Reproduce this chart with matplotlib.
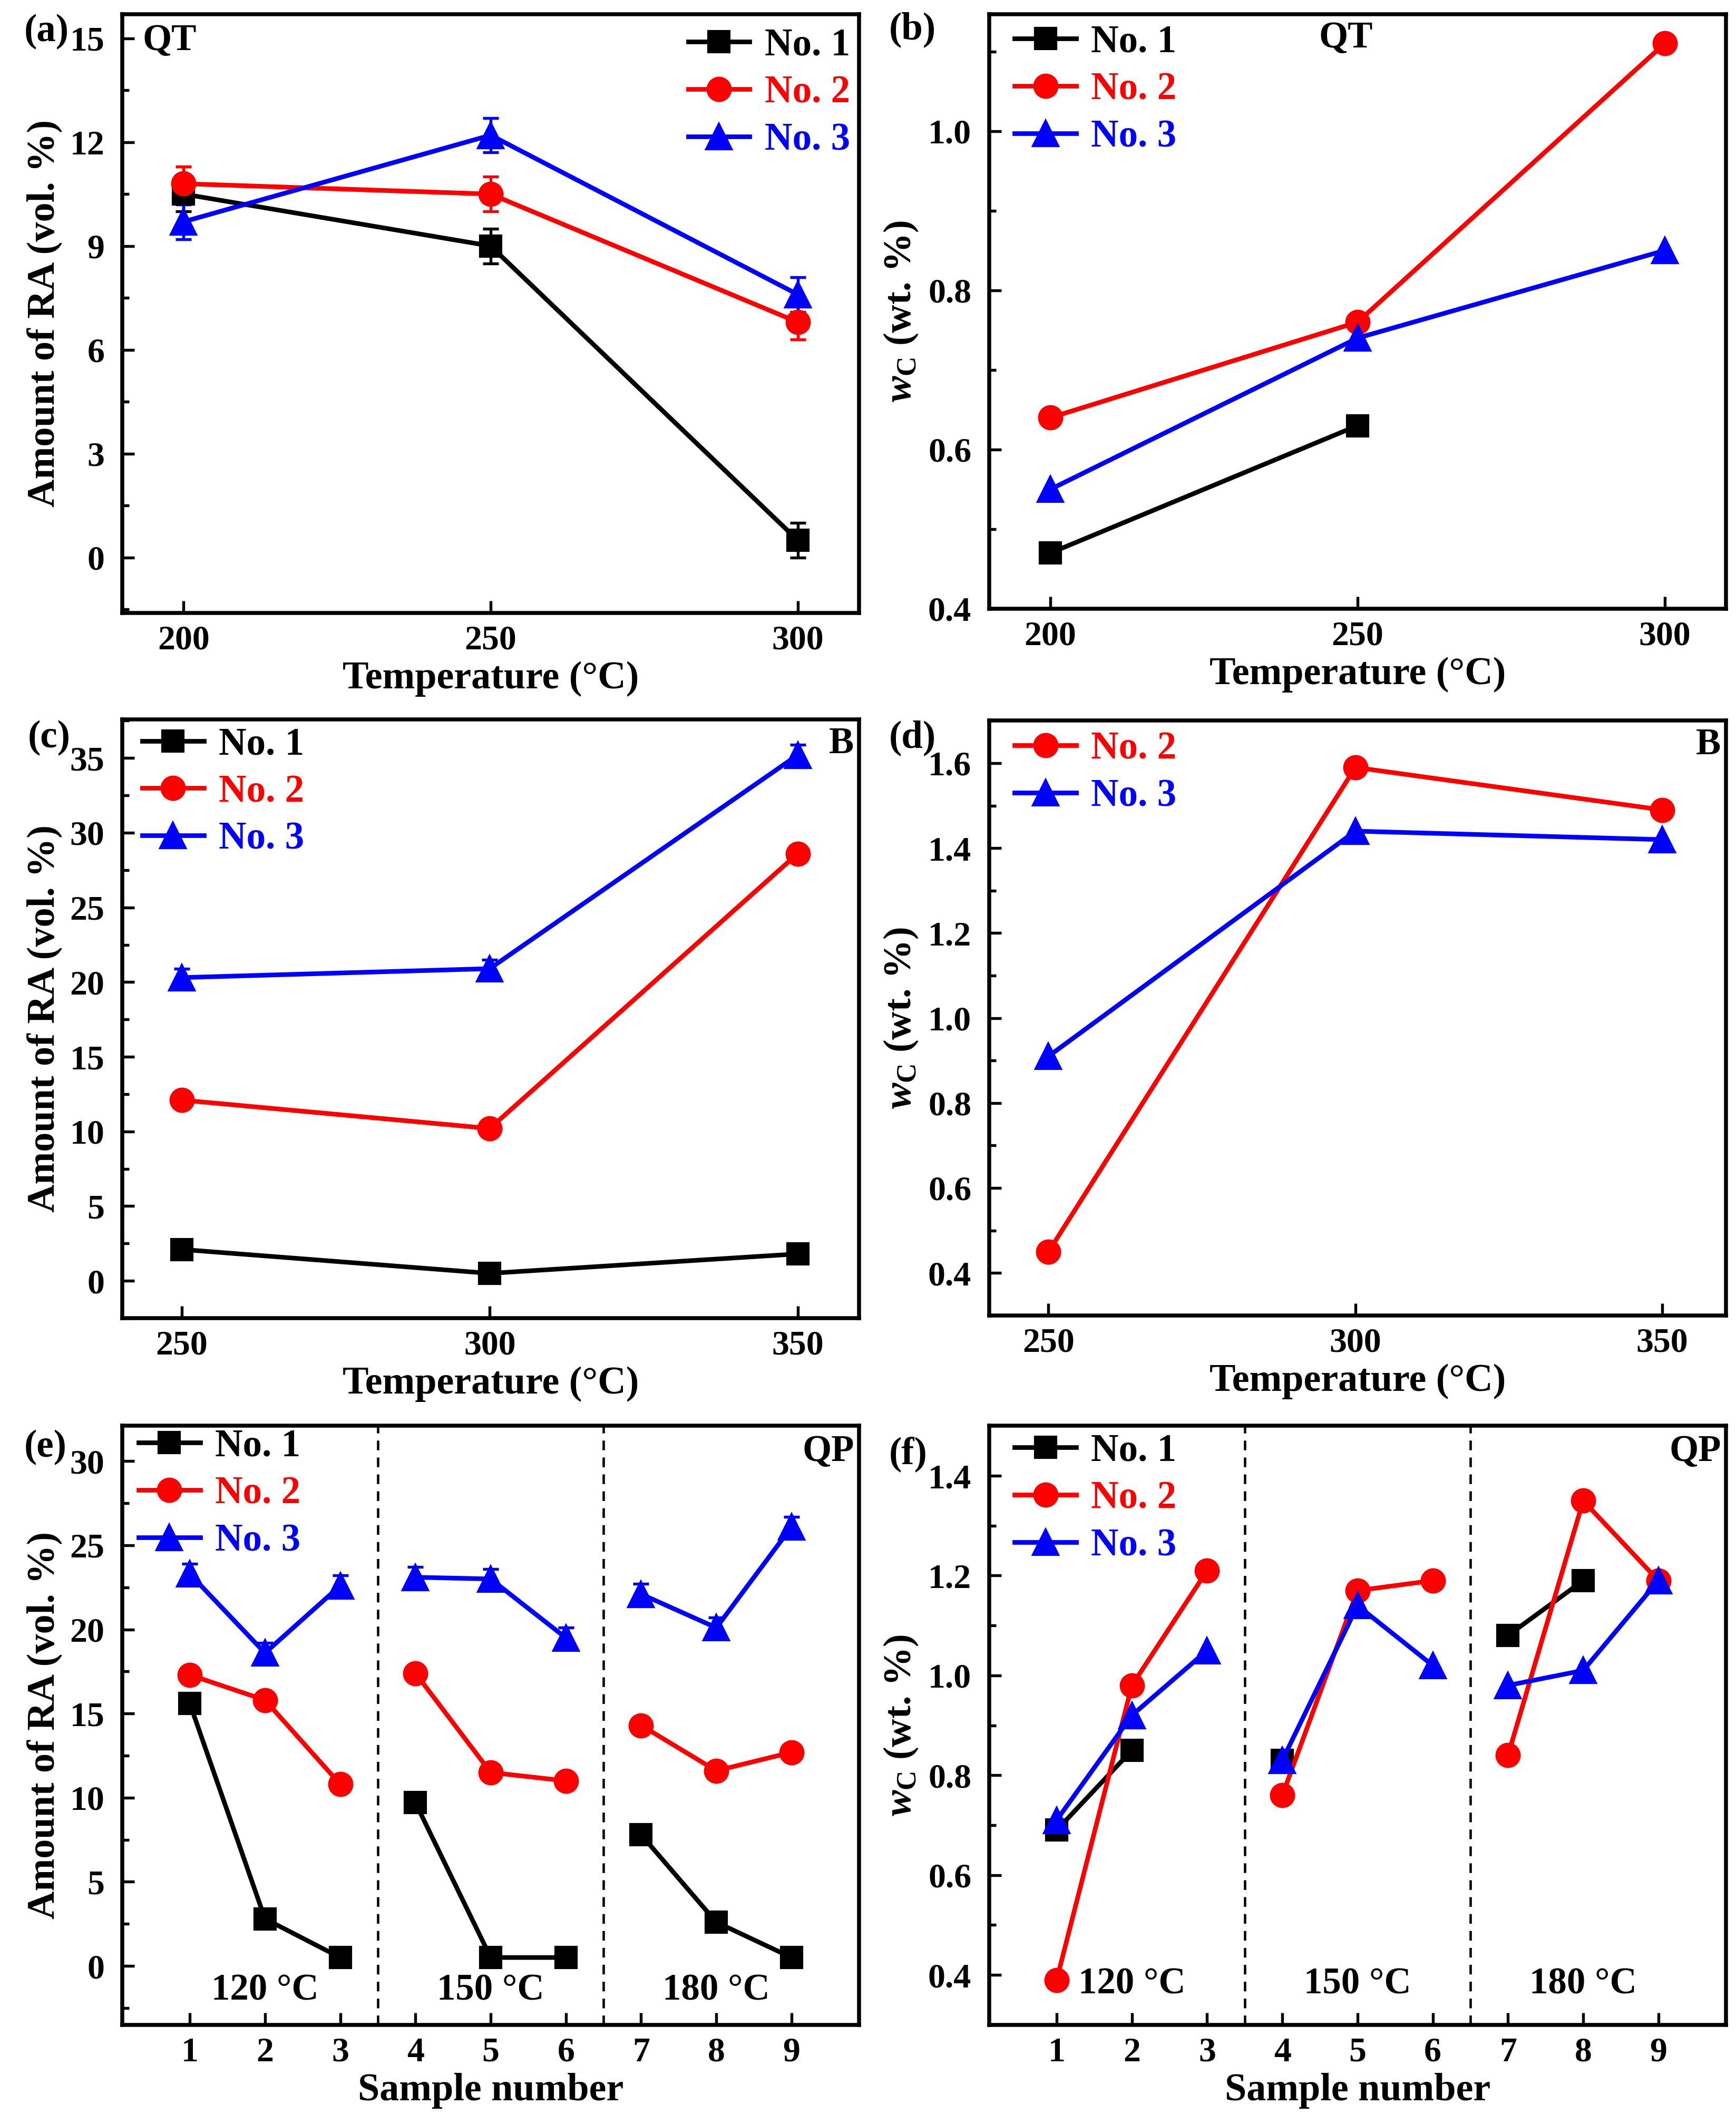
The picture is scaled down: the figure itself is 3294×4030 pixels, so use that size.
import numpy as np
import matplotlib
matplotlib.use("Agg")
import matplotlib.pyplot as plt
from matplotlib.ticker import MultipleLocator
import matplotlib.transforms as mtransforms

plt.rcParams['font.family'] = ['Liberation Serif', 'DejaVu Serif']
plt.rcParams['font.weight'] = 'bold'
plt.rcParams['axes.labelweight'] = 'bold'
plt.rcParams['mathtext.fontset'] = 'custom'
plt.rcParams['mathtext.rm'] = 'Liberation Serif:bold'
plt.rcParams['mathtext.it'] = 'Liberation Serif:italic:bold'
plt.rcParams['mathtext.bf'] = 'Liberation Serif:bold'

# ---- data ----
temp_qt = [200, 250, 300]
ra_qt_1 = [10.5, 9.0, 0.5]
ra_qt_2 = [10.8, 10.5, 6.8]
ra_qt_3 = [9.7, 12.2, 7.6]
ra_qt_err = [0.5, 0.5, 0.5]
wc_qt_1 = [0.47, 0.63, np.nan]
wc_qt_2 = [0.64, 0.76, 1.11]
wc_qt_3 = [0.55, 0.74, 0.85]

temp_b = [250, 300, 350]
ra_b_1 = [2.1, 0.5, 1.8]
ra_b_2 = [12.1, 10.2, 28.6]
ra_b_3 = [20.3, 20.9, 35.2]
ra_b_err = [0.6, 0.6, 0.7]
wc_b_2 = [0.45, 1.59, 1.49]
wc_b_3 = [0.91, 1.44, 1.42]

samples = [1, 2, 3, 4, 5, 6, 7, 8, 9]
ra_qp_1 = [15.6, 2.8, 0.5, 9.7, 0.5, 0.5, 7.8, 2.6, 0.5]
ra_qp_2 = [17.3, 15.8, 10.8, 17.4, 11.5, 11.0, 14.3, 11.6, 12.7]
ra_qp_3 = [23.3, 18.6, 22.6, 23.1, 23.0, 19.5, 22.1, 20.1, 26.1]
ra_qp_err = [0.6] * 9
wc_qp_1 = [0.69, 0.85, np.nan, 0.83, np.nan, np.nan, 1.08, 1.19, np.nan]
wc_qp_2 = [0.39, 0.98, 1.21, 0.76, 1.17, 1.19, 0.84, 1.35, 1.19]
wc_qp_3 = [0.71, 0.92, 1.05, 0.83, 1.14, 1.02, 0.98, 1.01, 1.19]
qp_temps = ['120 °C', '150 °C', '180 °C']

labels = ['No. 1', 'No. 2', 'No. 3']
colors = ['black', 'red', 'blue']
markers = ['s', 'o', '^']
msizes = [9.5, 10.5, 11.5]

fig = plt.figure(figsize=(3295 / 300, 4030 / 300), dpi=300)

W = 0.4245
H = 0.282
axa = fig.add_axes([0.0703, 0.7114, W, H])
axb = fig.add_axes([0.5695, 0.7134, W, 0.280])
axc = fig.add_axes([0.0703, 0.3794, W, H])
axd = fig.add_axes([0.5695, 0.3807, W, 0.280])
axe = fig.add_axes([0.0703, 0.0467, W, H])
axf = fig.add_axes([0.5695, 0.0467, W, H])

TICK_FS = 15.8
LAB_FS = 17.8
LEG_FS = 17.5
TXT_FS = 17
ra_label = 'Amount of RA (vol. %)'
wc_label = r'$w_{\mathrm{C}}$ (wt. %)'


def style(ax):
    for s in ax.spines.values():
        s.set_linewidth(1.8)
    ax.tick_params(which='both', direction='in', top=False, right=False,
                   labelsize=TICK_FS, width=1.3, pad=8)
    ax.tick_params(axis='x', which='both', pad=5.5)
    ax.tick_params(which='major', length=5.5)
    ax.tick_params(which='minor', length=3.2)


def series(ax, x, ys, idx, err=None, label=True):
    lab = labels[idx] if label else None
    ax.plot(x, ys, color=colors[idx], marker=markers[idx], ms=msizes[idx],
            lw=2.1, label=lab, zorder=3)
    if err is not None:
        ax.errorbar(x, ys, yerr=err, fmt='none', ecolor=colors[idx],
                    elinewidth=1.3, capsize=3.5, capthick=1.3, zorder=2)


def legend(ax, loc, anchor):
    leg = ax.legend(loc=loc, bbox_to_anchor=anchor, frameon=False,
                    handlelength=1.6, handletextpad=0.39,
                    labelspacing=0.3, borderaxespad=0.0, borderpad=0.2,
                    prop={'weight': 'bold', 'size': LEG_FS})
    for t, h in zip(leg.get_texts(), leg.get_lines()):
        t.set_color(h.get_color())
    return leg


# (a) QT retained austenite
series(axa, temp_qt, ra_qt_1, 0, ra_qt_err)
series(axa, temp_qt, ra_qt_2, 1, ra_qt_err)
series(axa, temp_qt, ra_qt_3, 2, ra_qt_err)
axa.set_xlim(190, 310)
axa.set_ylim(-1.6, 15.7)
axa.set_xticks(temp_qt)
axa.yaxis.set_major_locator(MultipleLocator(3))
axa.yaxis.set_minor_locator(MultipleLocator(1.5))
axa.set_xlabel('Temperature (°C)', fontsize=LAB_FS)
axa.set_ylabel(ra_label, fontsize=LAB_FS)
legend(axa, 'upper right', (0.998, 0.99))
axa.text(0.028, 0.955, 'QT', transform=axa.transAxes, fontsize=TXT_FS,
         ha='left', va='center')

# (b) QT carbon
series(axb, temp_qt, wc_qt_1, 0)
series(axb, temp_qt, wc_qt_2, 1)
series(axb, temp_qt, wc_qt_3, 2)
axb.set_xlim(190, 310)
axb.set_ylim(0.4, 1.147)
axb.set_xticks(temp_qt)
axb.yaxis.set_major_locator(MultipleLocator(0.2))
axb.yaxis.set_minor_locator(MultipleLocator(0.1))
axb.set_xlabel('Temperature (°C)', fontsize=LAB_FS)
axb.set_ylabel(wc_label, fontsize=LAB_FS)
legend(axb, 'upper left', (0.0245, 0.995))
axb.text(0.484, 0.959, 'QT', transform=axb.transAxes, fontsize=TXT_FS,
         ha='center', va='center')

# (c) B retained austenite
series(axc, temp_b, ra_b_1, 0, [0.3] * 3)
series(axc, temp_b, ra_b_2, 1, [0.4] * 3)
series(axc, temp_b, ra_b_3, 2, ra_b_err)
axc.set_xlim(240.3, 360)
axc.set_ylim(-2.5, 37.6)
axc.set_xticks(temp_b)
axc.yaxis.set_major_locator(MultipleLocator(5))
axc.yaxis.set_minor_locator(MultipleLocator(2.5))
axc.set_xlabel('Temperature (°C)', fontsize=LAB_FS)
axc.set_ylabel(ra_label, fontsize=LAB_FS)
legend(axc, 'upper left', (0.017, 1.0))
axc.text(0.993, 0.959, 'B', transform=axc.transAxes, fontsize=TXT_FS,
         ha='right', va='center')

# (d) B carbon
series(axd, temp_b, wc_b_2, 1)
series(axd, temp_b, wc_b_3, 2)
axd.set_xlim(240.3, 360.4)
axd.set_ylim(0.3, 1.7)
axd.set_xticks(temp_b)
axd.yaxis.set_major_locator(MultipleLocator(0.2))
axd.yaxis.set_minor_locator(MultipleLocator(0.1))
axd.set_xlabel('Temperature (°C)', fontsize=LAB_FS)
axd.set_ylabel(wc_label, fontsize=LAB_FS)
legend(axd, 'upper left', (0.0245, 0.995))
axd.text(0.993, 0.959, 'B', transform=axd.transAxes, fontsize=TXT_FS,
         ha='right', va='center')


# (e), (f) QP: three groups of three samples, lines only inside a group
def qp_panel(ax, ys_list, errs, text_y):
    x = np.array(samples)
    for idx, ys in ys_list:
        ys = np.array(ys, dtype=float)
        for g in range(3):
            sl = slice(3 * g, 3 * g + 3)
            series(ax, x[sl], ys[sl], idx,
                   None if errs is None else np.array(errs[idx])[sl],
                   label=(g == 0))
    for xv in (3.5, 6.5):
        ax.axvline(xv, color='black', ls=(0, (4, 3)), lw=1.1, zorder=1)
    ax.set_xlim(0.1, 9.9)
    ax.set_xticks(samples)
    ax.set_xlabel('Sample number', fontsize=LAB_FS)
    trans = mtransforms.blended_transform_factory(ax.transData, ax.transAxes)
    for g, t in enumerate(qp_temps):
        ax.text(samples[3 * g + 1], text_y, t, transform=trans,
                fontsize=TXT_FS, ha='center', va='center')
    ax.text(0.993, 0.957, 'QP', transform=ax.transAxes, fontsize=TXT_FS,
            ha='right', va='center')


qp_panel(axe, [(0, ra_qp_1), (1, ra_qp_2), (2, ra_qp_3)],
         {0: [0.3] * 9, 1: [0.4] * 9, 2: ra_qp_err}, 0.057)
axe.set_ylim(-3.5, 32.1)
axe.yaxis.set_major_locator(MultipleLocator(5))
axe.yaxis.set_minor_locator(MultipleLocator(2.5))
axe.set_ylabel(ra_label, fontsize=LAB_FS)
legend(axe, 'upper left', (0.012, 1.008))

qp_panel(axf, [(0, wc_qp_1), (1, wc_qp_2), (2, wc_qp_3)], None, 0.068)
axf.set_ylim(0.3, 1.5)
axf.yaxis.set_major_locator(MultipleLocator(0.2))
axf.yaxis.set_minor_locator(MultipleLocator(0.1))
axf.set_ylabel(wc_label, fontsize=LAB_FS)
legend(axf, 'upper left', (0.0245, 1.0))

for ax in (axa, axb, axc, axd, axe, axf):
    style(ax)
    ax.xaxis.labelpad = 2
    ax.yaxis.labelpad = 3.5

# panel letters
for lab, x, y in [('(a)', 0.014, 0.985), ('(b)', 0.512, 0.986),
                  ('(c)', 0.016, 0.6526), ('(d)', 0.512, 0.6526),
                  ('(e)', 0.014, 0.3186), ('(f)', 0.512, 0.3154)]:
    fig.text(x, y, lab, fontsize=LEG_FS, ha='left', va='center')

fig.savefig('out.png', dpi=300, facecolor='white')
